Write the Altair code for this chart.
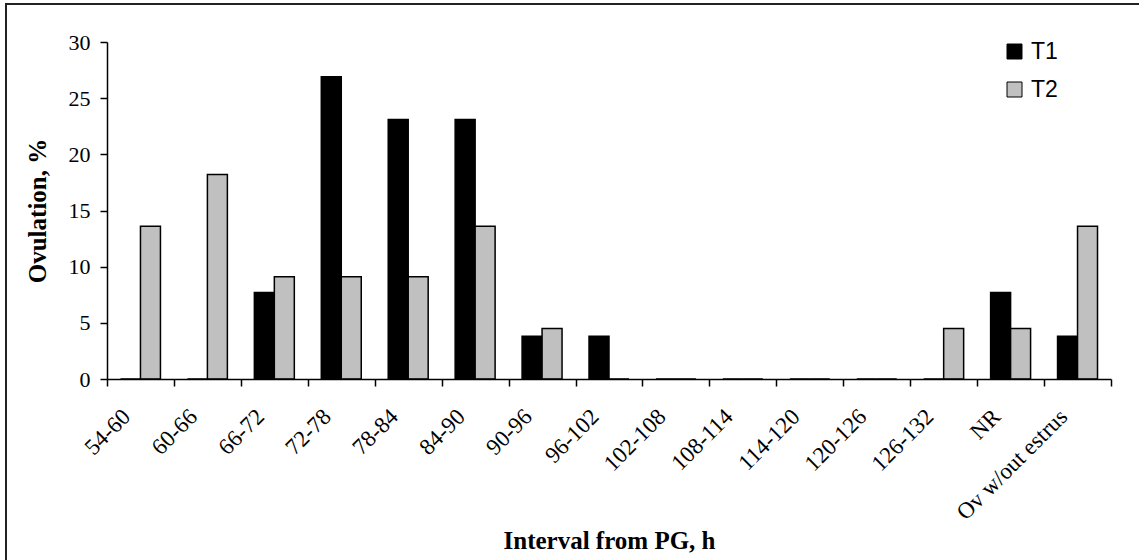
import altair as alt
import pandas as pd

# Ovulation timing after PG, two treatment groups
categories = ["54-60", "60-66", "66-72", "72-78", "78-84", "84-90", "90-96",
              "96-102", "102-108", "108-114", "114-120", "120-126", "126-132",
              "NR", "Ov w/out estrus"]
t1 = [0, 0, 7.7, 26.9, 23.1, 23.1, 3.8, 3.8, 0, 0, 0, 0, 0, 7.7, 3.8]
t2 = [13.6, 18.2, 9.1, 9.1, 9.1, 13.6, 4.5, 0, 0, 0, 0, 0, 4.5, 4.5, 13.6]
series = ["T1", "T2"]
series_colors = ["#000000", "#C0C0C0"]

rows = []
for cat, a, b in zip(categories, t1, t2):
    rows.append({"interval": cat, "series": "T1", "value": a})
    rows.append({"interval": cat, "series": "T2", "value": b})
df = pd.DataFrame(rows)

SERIF = "Liberation Serif"
SANS = "Liberation Sans"
W, H = 1004, 337
PAD_L, PAD_T = 107, 42

bars = alt.Chart(df).mark_bar(stroke="black", strokeWidth=1.5).encode(
    x=alt.X(
        "interval:N",
        sort=categories,
        scale=alt.Scale(paddingInner=0, paddingOuter=0),
        axis=alt.Axis(
            title="Interval from PG, h",
            titleFont=SERIF, titleFontSize=25, titleFontWeight="bold",
            titleColor="black", titleBaseline="middle", titleY=161,
            labelFont=SERIF, labelFontSize=23, labelColor="black",
            labelAngle=-45, labelAlign="right", labelBaseline="top",
            labelOffset=-22, labelPadding=19,
            tickBand="extent", tickSize=7, tickColor="black", tickWidth=1.5,
            domainColor="black", domainWidth=1.5, zindex=1,
        ),
    ),
    xOffset=alt.XOffset(
        "series:N", sort=series,
        scale=alt.Scale(paddingInner=0, paddingOuter=0.675),
    ),
    y=alt.Y(
        "value:Q",
        scale=alt.Scale(domain=[0, 30], nice=False),
        axis=alt.Axis(
            title="Ovulation, %", values=[0, 5, 10, 15, 20, 25, 30],
            titleFont=SERIF, titleFontSize=25, titleFontWeight="bold",
            titleColor="black", titleX=-70, titleY=H / 2,
            titleAlign="center", titleBaseline="middle", titleAngle=-90,
            labelFont=SERIF, labelFontSize=22, labelColor="black",
            labelPadding=10, tickSize=7, tickColor="black", tickWidth=1.5,
            domainColor="black", domainWidth=1.5, grid=False, zindex=1,
        ),
    ),
    color=alt.Color(
        "series:N",
        scale=alt.Scale(domain=series, range=series_colors),
        legend=alt.Legend(
            title=None, orient="none", legendX=896, legendY=-2,
            symbolType="square", symbolSize=225,
            symbolStrokeColor="black", symbolStrokeWidth=1,
            labelFont=SANS, labelFontSize=23, labelColor="black",
            labelOffset=5, rowPadding=14,
        ),
    ),
)

# frame around the whole figure
frame = alt.Chart(pd.DataFrame({"k": [0]})).mark_rect(
    fill=None, stroke="#222222", strokeWidth=2
).encode(
    x=alt.value(6 - PAD_L), x2=alt.value(1200),
    y=alt.value(4 - PAD_T), y2=alt.value(700),
)

chart = alt.layer(bars, frame).properties(
    width=W, height=H,
    autosize=alt.AutoSizeParams(type="none"),
    padding={"left": PAD_L, "top": PAD_T, "right": 1139 - PAD_L - W, "bottom": 560 - PAD_T - H},
    background="white",
).configure_view(stroke=None)

chart.save("out.html", embed_options={"renderer": "svg", "actions": False})
